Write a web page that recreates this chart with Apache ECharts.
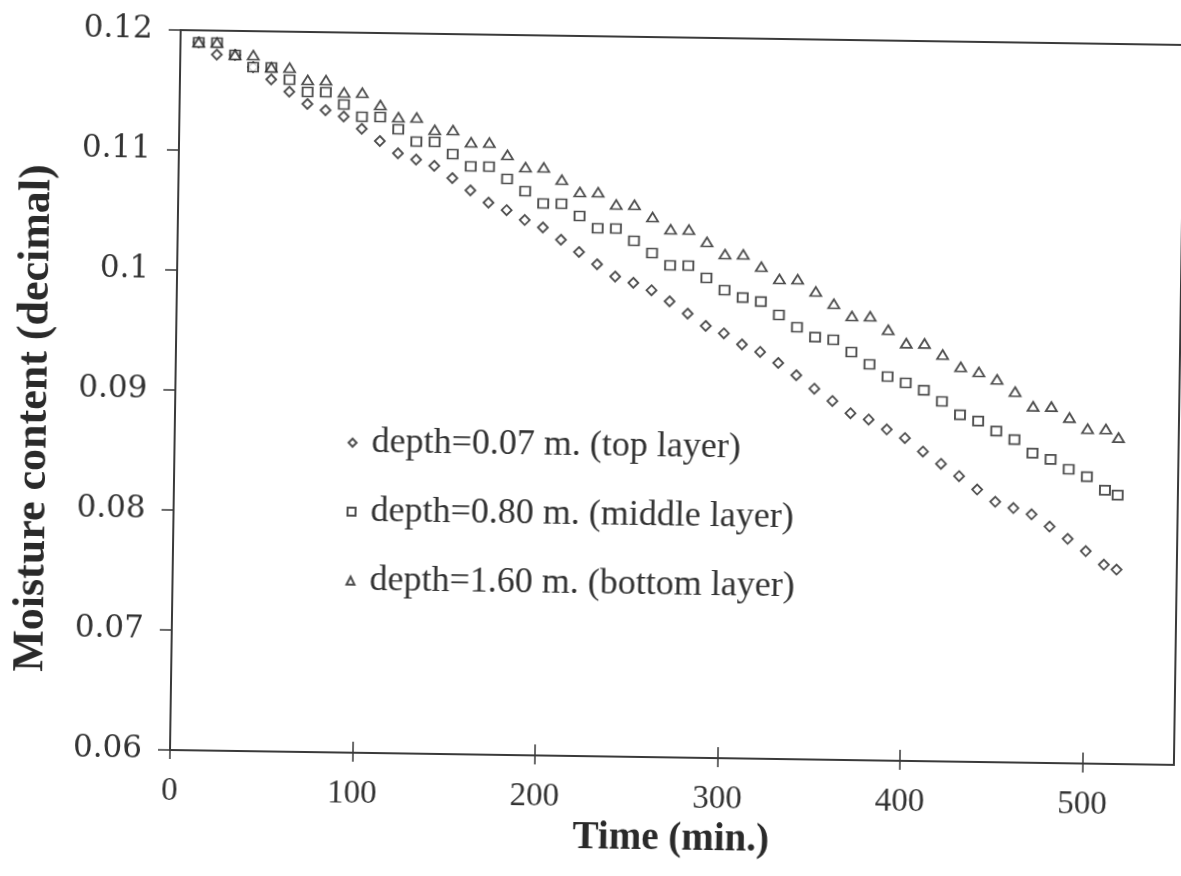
<!DOCTYPE html>
<html>
<head>
<meta charset="utf-8">
<title>Moisture content vs time</title>
<script src="https://cdn.jsdelivr.net/npm/echarts@6.0.0/dist/echarts.min.js"></script>
<style>
  html, body { margin: 0; padding: 0; background: #fff; }
  /* the scanned figure is tilted a little, so the whole chart is turned round the axis origin */
  #chart { width: 1181px; height: 876px; transform: rotate(0.85deg); transform-origin: 170px 750px; }
</style>
</head>
<body>
<div id="chart"></div>
<script>
// time (min.)
const timeMin = [10, 20, 30, 40, 50, 60, 70, 80, 90, 100,
  110, 120, 130, 140, 150, 160, 170, 180, 190, 200,
  210, 220, 230, 240, 250, 260, 270, 280, 290, 300,
  310, 320, 330, 340, 350, 360, 370, 380, 390, 400,
  410, 420, 430, 440, 450, 460, 470, 480, 490, 500,
  510, 517];

// depth=0.07 m
const topLayer = [0.119, 0.118, 0.118, 0.117, 0.116, 0.115, 0.114, 0.1135, 0.113, 0.112,
  0.111, 0.110, 0.1095, 0.109, 0.108, 0.107, 0.106, 0.1054, 0.1046, 0.104,
  0.103, 0.102, 0.101, 0.100, 0.0995, 0.0989, 0.098, 0.097, 0.096, 0.0954,
  0.0945, 0.0939, 0.093, 0.092, 0.0909, 0.0899, 0.0889, 0.0884, 0.0876, 0.0869,
  0.0858, 0.0848, 0.0838, 0.0827, 0.0817, 0.0812, 0.0807, 0.0797, 0.0787, 0.0777,
  0.0766, 0.0762];

// depth=0.80 m
const middleLayer = [0.119, 0.119, 0.118, 0.117, 0.117, 0.116, 0.115, 0.115, 0.114, 0.113,
  0.113, 0.112, 0.111, 0.111, 0.110, 0.109, 0.109, 0.108, 0.107, 0.106,
  0.106, 0.105, 0.104, 0.104, 0.103, 0.102, 0.101, 0.101, 0.100, 0.099,
  0.0984, 0.0981, 0.097, 0.096, 0.0952, 0.095, 0.094, 0.093, 0.092, 0.0915,
  0.0909, 0.0900, 0.0889, 0.0884, 0.0876, 0.0869, 0.0858, 0.0853, 0.0845, 0.0839,
  0.0828, 0.0824];

// depth=1.60 m
const bottomLayer = [0.119, 0.119, 0.118, 0.118, 0.117, 0.117, 0.116, 0.116, 0.115, 0.115,
  0.114, 0.113, 0.113, 0.112, 0.112, 0.111, 0.111, 0.110, 0.109, 0.109,
  0.108, 0.107, 0.107, 0.106, 0.106, 0.105, 0.104, 0.104, 0.103, 0.102,
  0.102, 0.101, 0.100, 0.100, 0.099, 0.098, 0.097, 0.097, 0.0959, 0.0948,
  0.0948, 0.0939, 0.0929, 0.0925, 0.0919, 0.0909, 0.0897, 0.0897, 0.0888, 0.0879,
  0.0879, 0.0872];

const seriesNames = ['depth=0.07 m. (top layer)', 'depth=0.80 m. (middle layer)', 'depth=1.60 m. (bottom layer)'];
const seriesValues = [topLayer, middleLayer, bottomLayer];
const symbols = ['diamond', 'rect', 'triangle'];
const symbolSizes = [[10, 10], [10, 9], [11, 9]];

const myChart = echarts.init(document.getElementById('chart'));

function pairs(vals) {
  return timeMin.map(function (t, i) { return [t, vals[i]]; });
}

const serif = '"Liberation Serif", "Times New Roman", serif';

myChart.setOption({
  backgroundColor: 'transparent',
  animation: false,
  grid: {
    left: 170,
    right: 7,
    top: 30,
    bottom: 126,
    show: true,
    borderColor: '#3a3a3a',
    borderWidth: 2
  },
  legend: {
    orient: 'vertical',
    left: 343,
    top: 422,
    itemGap: 33,
    itemWidth: 8,
    itemHeight: 8,
    padding: 0,
    data: seriesNames,
    textStyle: {
      fontFamily: serif,
      fontSize: 36,
      color: '#333',
      padding: [0, 0, 0, 10]
    }
  },
  xAxis: [{
    type: 'value',
    min: 0,
    max: 550,
    interval: 100,
    name: 'Time (min.)',
    nameLocation: 'middle',
    nameGap: 52,
    nameTextStyle: {
      fontFamily: serif,
      fontWeight: 'bold',
      fontSize: 39,
      color: '#2a2a2a'
    },
    axisLine: { show: true, lineStyle: { color: '#3a3a3a', width: 2 } },
    axisTick: { show: true, length: 9, lineStyle: { color: '#3a3a3a', width: 1.5 } },
    axisLabel: {
      margin: 25,
      showMaxLabel: false,
      fontFamily: serif,
      fontSize: 33,
      color: '#333'
    },
    splitLine: { show: false }
  }, {
    // second copy only to get the tick marks crossing into the plot
    type: 'value',
    position: 'bottom',
    min: 0,
    max: 550,
    interval: 100,
    axisLine: { show: false },
    axisTick: { show: true, inside: true, length: 11, lineStyle: { color: '#3a3a3a', width: 1.5 } },
    axisLabel: { show: false },
    splitLine: { show: false }
  }],
  yAxis: {
    type: 'value',
    min: 0.06,
    max: 0.12,
    interval: 0.01,
    name: 'Moisture content (decimal)',
    nameLocation: 'middle',
    nameGap: 118,
    nameTextStyle: {
      fontFamily: serif,
      fontWeight: 'bold',
      fontSize: 44,
      color: '#2a2a2a',
      padding: [0, 60, 0, 0]
    },
    axisLine: { show: true, lineStyle: { color: '#3a3a3a', width: 2 } },
    axisTick: { show: true, length: 12, lineStyle: { color: '#3a3a3a', width: 1.5 } },
    axisLabel: {
      margin: 28,
      fontFamily: '"DejaVu Serif", serif',
      fontSize: 31,
      color: '#333'
    },
    splitLine: { show: false }
  },
  series: seriesNames.map(function (name, k) {
    return {
      name: name,
      type: 'scatter',
      symbol: symbols[k],
      symbolSize: symbolSizes[k],
      data: pairs(seriesValues[k]),
      itemStyle: {
        color: '#fff',
        borderColor: '#222',
        borderWidth: 1.8
      }
    };
  })
});
</script>
</body>
</html>
